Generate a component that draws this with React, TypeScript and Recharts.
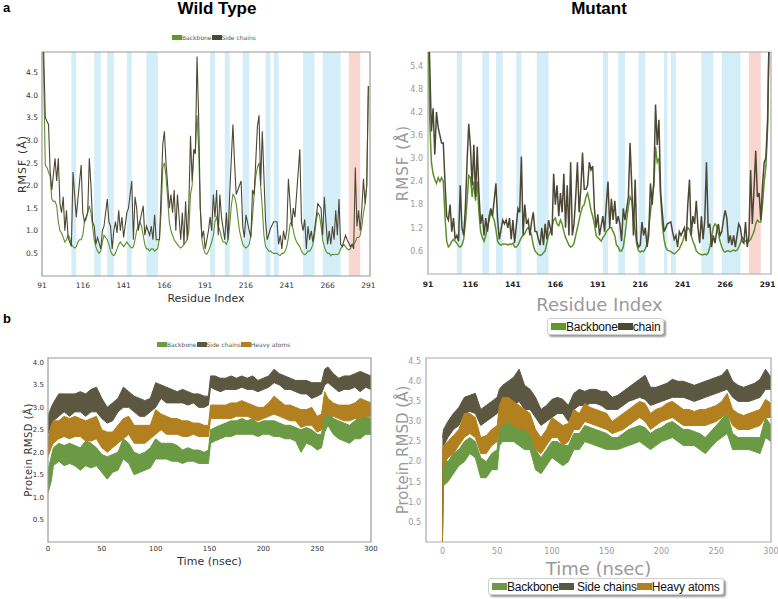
import React from 'react';
import { LineChart, Line, ComposedChart, Area, XAxis, YAxis, ReferenceArea, Label } from 'recharts';

// ---- axis ticks ----
const RESIDUE_TICKS = [91, 116, 141, 166, 191, 216, 241, 266, 291];
const TIME_TICKS = [0, 50, 100, 150, 200, 250, 300];
const WT_RMSF_TICKS = [0.5, 1.0, 1.5, 2.0, 2.5, 3.0, 3.5, 4.0, 4.5];
const MUT_RMSF_TICKS = [0.6, 1.2, 1.8, 2.4, 3.0, 3.6, 4.2, 4.8, 5.4];
const WT_RMSD_TICKS = [0.5, 1.0, 1.5, 2.0, 2.5, 3.0, 3.5, 4.0];
const MUT_RMSD_TICKS = [0.5, 1.0, 1.5, 2.0, 2.5, 3.0, 3.5, 4.0, 4.5];

// ---- secondary structure bands (residue ranges) ----
const WT_HELIX = [[109, 112], [123, 127], [131, 135], [143, 146], [155, 162], [194, 197], [203, 206], [214, 218], [228, 231], [233, 236], [251, 258], [263, 274]];
const WT_STRAND = [[279, 286]];
const MUT_HELIX = [[108, 111], [123, 127], [131, 135], [143, 146], [155, 162], [194, 197], [203, 207], [215, 219], [230, 232], [234, 237], [252, 259], [264, 275]];
const MUT_STRAND = [[280, 287]];

// ---- RMSF, wild type: [residue, value] ----
const WT_BACKBONE = [[91, 6.0], [92, 4.5], [93, 2.45], [94, 2.4], [95, 2.3], [96, 2.2], [97, 1.7], [98, 1.65], [99, 1.65], [100, 1.55], [101, 1.2], [102, 1.0], [103, 0.95], [104, 0.85], [105, 0.75], [106, 0.8], [107, 0.9], [108, 0.85], [109, 0.7], [110, 0.65], [111, 0.62], [112, 0.65], [113, 0.75], [114, 0.8], [115, 0.8], [116, 0.9], [117, 1.2], [118, 1.25], [119, 1.4], [120, 1.55], [121, 1.4], [122, 1.1], [123, 0.8], [124, 0.65], [125, 0.55], [126, 0.5], [127, 0.55], [128, 0.75], [129, 0.9], [130, 0.85], [131, 0.8], [132, 0.7], [133, 0.55], [134, 0.48], [135, 0.45], [136, 0.5], [137, 0.6], [138, 0.7], [139, 0.75], [140, 0.7], [141, 0.65], [142, 0.7], [143, 0.75], [144, 0.7], [145, 0.65], [146, 0.62], [147, 0.65], [148, 0.8], [149, 1.0], [150, 1.1], [151, 1.2], [152, 1.1], [153, 0.9], [154, 0.7], [155, 0.6], [156, 0.6], [157, 0.55], [158, 0.6], [159, 0.6], [160, 0.55], [161, 0.58], [162, 0.62], [163, 0.85], [164, 1.4], [165, 2.4], [166, 2.5], [167, 2.2], [168, 1.7], [169, 1.2], [170, 1.0], [171, 0.9], [172, 0.8], [173, 0.75], [174, 0.7], [175, 0.65], [176, 0.62], [177, 0.65], [178, 0.7], [179, 0.75], [180, 0.8], [181, 1.0], [182, 1.8], [183, 2.0], [184, 2.7], [185, 2.8], [186, 3.55], [187, 2.8], [188, 1.5], [189, 0.8], [190, 0.6], [191, 0.5], [192, 0.48], [193, 0.55], [194, 0.65], [195, 0.75], [196, 0.9], [197, 1.2], [198, 1.3], [199, 1.1], [200, 1.0], [201, 0.85], [202, 0.75], [203, 0.75], [204, 0.7], [205, 0.8], [206, 1.1], [207, 1.55], [208, 1.8], [209, 1.75], [210, 1.6], [211, 1.3], [212, 1.0], [213, 0.85], [214, 0.7], [215, 0.65], [216, 0.62], [217, 0.65], [218, 0.7], [219, 0.9], [220, 1.3], [221, 1.8], [222, 2.2], [223, 2.4], [224, 2.5], [225, 2.0], [226, 1.5], [227, 0.9], [228, 0.65], [229, 0.6], [230, 0.55], [231, 0.55], [232, 0.52], [233, 0.5], [234, 0.5], [235, 0.5], [236, 0.47], [237, 0.45], [238, 0.5], [239, 0.5], [240, 0.55], [241, 0.65], [242, 0.85], [243, 1.15], [244, 1.2], [245, 1.0], [246, 0.85], [247, 0.75], [248, 0.7], [249, 0.65], [250, 0.55], [251, 0.5], [252, 0.47], [253, 0.5], [254, 0.55], [255, 0.55], [256, 0.6], [257, 0.7], [258, 0.9], [259, 1.2], [260, 1.4], [261, 1.35], [262, 1.1], [263, 0.8], [264, 0.65], [265, 0.55], [266, 0.5], [267, 0.5], [268, 0.45], [269, 0.48], [270, 0.47], [271, 0.48], [272, 0.47], [273, 0.5], [274, 0.6], [275, 0.65], [276, 0.7], [277, 0.65], [278, 0.6], [279, 0.58], [280, 0.6], [281, 0.7], [282, 0.7], [283, 0.75], [284, 0.85], [285, 0.85], [286, 0.9], [287, 1.1], [288, 1.4], [289, 1.6], [290, 2.0], [291, 4.2]];
const WT_SIDECHAIN = [[91, 6.0], [92, 5.0], [93, 3.5], [95, 3.35], [96, 2.3], [97, 1.9], [99, 2.6], [100, 2.1], [101, 2.6], [102, 1.6], [103, 1.4], [104, 1.75], [105, 1.0], [106, 1.45], [107, 0.85], [108, 0.75], [109, 0.65], [110, 2.3], [112, 1.3], [113, 1.7], [115, 2.45], [116, 1.4], [117, 1.2], [119, 1.4], [120, 2.6], [121, 2.0], [122, 1.2], [123, 1.1], [124, 0.7], [125, 0.85], [127, 0.6], [128, 1.0], [129, 1.1], [131, 1.7], [132, 1.2], [133, 1.1], [134, 0.6], [135, 1.0], [136, 1.2], [137, 0.95], [138, 1.45], [139, 1.0], [140, 1.3], [141, 0.85], [143, 1.4], [144, 1.5], [146, 2.1], [147, 0.8], [148, 1.75], [149, 1.5], [150, 1.0], [151, 1.2], [153, 1.55], [154, 0.9], [155, 1.1], [157, 0.9], [158, 1.1], [159, 0.8], [160, 1.35], [161, 0.8], [163, 0.8], [165, 2.9], [166, 3.2], [167, 2.5], [169, 1.5], [170, 1.8], [171, 1.4], [172, 1.9], [173, 1.0], [174, 1.8], [176, 0.8], [177, 1.4], [178, 0.7], [179, 1.65], [180, 0.8], [181, 1.6], [182, 3.1], [183, 2.1], [184, 2.8], [185, 2.7], [186, 4.85], [187, 3.5], [188, 1.5], [189, 0.85], [190, 1.0], [191, 0.6], [193, 1.0], [194, 1.3], [195, 1.0], [196, 1.8], [197, 1.3], [198, 1.9], [199, 0.9], [200, 1.8], [201, 1.3], [203, 0.8], [204, 1.4], [205, 0.8], [206, 1.8], [208, 3.35], [209, 2.5], [210, 1.8], [211, 1.9], [213, 2.1], [214, 1.1], [215, 0.85], [216, 1.35], [218, 1.0], [219, 0.85], [220, 1.9], [221, 1.8], [223, 3.3], [224, 3.55], [225, 2.0], [226, 3.2], [228, 1.2], [229, 0.8], [231, 1.05], [233, 1.2], [235, 1.2], [236, 0.7], [237, 0.9], [238, 0.6], [239, 1.0], [240, 0.8], [241, 1.0], [242, 2.15], [244, 1.1], [245, 1.5], [246, 1.3], [249, 2.8], [250, 1.2], [251, 1.0], [252, 1.25], [253, 0.6], [254, 1.1], [255, 0.8], [256, 1.0], [257, 0.75], [259, 1.3], [260, 1.6], [262, 1.5], [263, 0.9], [264, 1.75], [265, 1.2], [266, 0.7], [267, 1.0], [268, 0.7], [269, 1.1], [270, 0.8], [271, 1.45], [272, 0.9], [273, 1.7], [274, 0.7], [275, 0.65], [277, 0.9], [278, 0.8], [280, 0.65], [281, 0.7], [282, 0.6], [283, 2.4], [284, 1.1], [285, 1.45], [286, 1.0], [287, 1.5], [288, 2.15], [289, 1.6], [290, 2.0], [291, 4.2]];

// ---- RMSF, mutant ----
const MUT_BACKBONE = [[91, 7.0], [92, 4.0], [93, 2.9], [94, 2.6], [95, 2.45], [96, 2.35], [97, 2.5], [98, 2.4], [99, 2.5], [100, 2.4], [101, 1.5], [102, 0.85], [103, 0.7], [104, 0.75], [105, 0.85], [106, 0.9], [107, 0.85], [108, 0.8], [109, 0.72], [110, 0.7], [111, 0.75], [112, 0.9], [113, 1.3], [114, 1.9], [115, 2.55], [116, 2.5], [117, 2.0], [118, 2.4], [119, 1.9], [120, 2.4], [121, 1.6], [122, 1.1], [123, 0.95], [124, 0.85], [125, 1.0], [126, 1.2], [127, 1.4], [128, 1.6], [129, 1.5], [130, 1.4], [131, 1.15], [132, 0.85], [133, 0.78], [134, 0.75], [135, 0.78], [136, 0.78], [137, 0.78], [138, 0.75], [139, 0.78], [140, 0.76], [141, 0.8], [142, 0.7], [143, 0.7], [144, 0.75], [145, 0.85], [146, 0.95], [147, 1.0], [148, 1.05], [149, 1.15], [150, 1.2], [151, 1.15], [152, 1.0], [153, 0.75], [154, 0.6], [155, 0.55], [156, 0.5], [157, 0.48], [158, 0.5], [159, 0.55], [160, 0.6], [161, 0.8], [162, 1.0], [163, 1.1], [164, 1.2], [165, 1.4], [166, 1.45], [167, 1.3], [168, 1.25], [169, 1.4], [170, 1.3], [171, 1.1], [172, 0.95], [173, 0.85], [174, 0.75], [175, 0.7], [176, 0.72], [177, 0.8], [178, 1.0], [179, 1.2], [180, 1.4], [181, 1.6], [182, 1.75], [183, 1.8], [184, 2.0], [185, 2.1], [186, 1.9], [187, 1.65], [188, 1.5], [189, 1.3], [190, 1.0], [191, 0.95], [192, 0.9], [193, 0.85], [194, 0.95], [195, 1.0], [196, 1.1], [197, 1.15], [198, 1.2], [199, 1.2], [200, 1.1], [201, 1.0], [202, 0.75], [203, 0.7], [204, 0.6], [205, 0.6], [206, 0.7], [207, 1.0], [208, 1.4], [209, 1.75], [210, 2.0], [211, 1.9], [212, 1.5], [213, 1.1], [214, 0.75], [215, 0.6], [216, 0.57], [217, 0.6], [218, 0.58], [219, 0.65], [220, 0.8], [221, 1.2], [222, 1.6], [223, 2.0], [224, 2.3], [225, 3.3], [226, 2.9], [227, 3.0], [228, 2.0], [229, 1.3], [230, 0.9], [231, 0.7], [232, 0.62], [233, 0.6], [234, 0.58], [235, 0.55], [236, 0.52], [237, 0.55], [238, 0.6], [239, 0.65], [240, 0.75], [241, 0.85], [242, 1.0], [243, 1.1], [244, 1.2], [245, 1.15], [246, 1.0], [247, 0.85], [248, 0.75], [249, 0.6], [250, 0.55], [251, 0.52], [252, 0.5], [253, 0.5], [254, 0.52], [255, 0.5], [256, 0.55], [257, 0.7], [258, 0.95], [259, 1.2], [260, 1.3], [261, 1.25], [262, 1.05], [263, 0.85], [264, 0.7], [265, 0.6], [266, 0.57], [267, 0.6], [268, 0.6], [269, 0.58], [270, 0.6], [271, 0.62], [272, 0.6], [273, 0.62], [274, 0.7], [275, 0.8], [276, 0.95], [277, 0.9], [278, 0.85], [279, 0.82], [280, 0.85], [281, 0.9], [282, 1.0], [283, 1.1], [284, 1.3], [285, 1.4], [286, 1.35], [287, 1.35], [288, 1.8], [289, 2.4], [290, 2.8], [291, 3.8], [292, 6.5]];
const MUT_SIDECHAIN = [[91, 7.0], [92, 5.5], [93, 3.7], [94, 4.3], [95, 3.1], [96, 4.2], [97, 3.8], [99, 3.4], [100, 3.4], [101, 2.4], [102, 1.5], [103, 1.4], [104, 1.8], [105, 1.1], [106, 1.45], [107, 0.9], [108, 1.0], [109, 0.85], [110, 2.3], [111, 1.2], [112, 1.0], [113, 1.7], [114, 2.9], [115, 3.9], [116, 3.3], [117, 2.3], [118, 3.35], [119, 2.0], [120, 3.3], [121, 2.1], [122, 1.3], [123, 1.55], [124, 1.0], [125, 1.45], [126, 1.1], [127, 1.5], [128, 1.7], [129, 1.5], [131, 2.35], [132, 1.4], [133, 0.9], [135, 1.4], [136, 1.3], [137, 1.4], [138, 1.2], [139, 1.45], [140, 0.9], [141, 1.4], [142, 0.8], [144, 1.7], [145, 1.6], [146, 3.05], [147, 1.0], [148, 1.8], [149, 1.3], [150, 1.4], [151, 1.0], [152, 1.35], [153, 1.6], [154, 1.1], [155, 1.1], [156, 0.9], [157, 0.75], [158, 1.2], [159, 0.75], [160, 1.3], [161, 0.9], [162, 1.4], [163, 1.2], [164, 1.0], [165, 2.6], [166, 1.8], [167, 2.3], [168, 1.5], [169, 2.1], [170, 1.6], [171, 2.6], [172, 1.2], [173, 2.3], [174, 1.0], [175, 2.9], [176, 1.0], [177, 1.3], [178, 2.0], [179, 2.9], [180, 1.6], [181, 2.2], [182, 3.15], [183, 2.2], [184, 2.2], [185, 2.3], [186, 2.9], [187, 2.7], [188, 2.8], [189, 1.7], [190, 1.2], [191, 1.55], [192, 1.0], [194, 1.5], [195, 1.1], [196, 1.8], [197, 2.4], [198, 1.2], [199, 1.95], [200, 1.4], [201, 1.9], [202, 1.3], [203, 1.5], [204, 1.3], [205, 0.85], [206, 1.7], [207, 1.4], [209, 2.0], [210, 3.4], [211, 2.3], [212, 1.0], [213, 2.45], [214, 0.85], [215, 0.7], [216, 0.75], [217, 1.35], [218, 1.0], [219, 1.2], [220, 0.7], [221, 1.0], [222, 2.35], [223, 1.8], [224, 2.4], [225, 4.4], [226, 3.35], [227, 4.0], [228, 2.1], [230, 1.1], [232, 1.3], [234, 1.35], [235, 1.1], [236, 0.9], [237, 1.0], [238, 0.7], [239, 1.1], [240, 1.0], [241, 1.1], [242, 1.2], [243, 0.85], [244, 1.8], [245, 2.45], [246, 1.0], [247, 1.5], [248, 1.3], [249, 1.9], [250, 1.2], [251, 0.8], [252, 1.5], [253, 0.9], [254, 1.4], [255, 2.9], [256, 1.2], [257, 1.3], [258, 0.7], [259, 1.0], [260, 0.8], [261, 1.1], [262, 1.3], [263, 1.0], [264, 1.1], [265, 1.4], [266, 1.65], [267, 1.45], [268, 0.8], [269, 1.0], [270, 0.75], [271, 1.0], [272, 0.7], [273, 1.0], [274, 1.3], [275, 1.2], [276, 0.85], [277, 0.8], [278, 1.35], [279, 0.7], [280, 1.0], [281, 2.7], [282, 1.3], [283, 2.2], [284, 3.2], [285, 2.0], [286, 2.1], [287, 1.4], [288, 2.3], [289, 2.9], [290, 3.0], [291, 4.0], [292, 6.5]];

// ---- RMSD, wild type: time (ns) and [low, high] band per series ----
const WT_TIME = [0, 3, 5, 10, 15, 20, 25, 30, 35, 40, 45, 50, 55, 60, 65, 70, 75, 80, 85, 90, 95, 100, 105, 110, 115, 120, 125, 130, 135, 140, 145, 149, 151, 155, 160, 165, 170, 175, 180, 185, 190, 195, 200, 205, 210, 215, 220, 225, 230, 235, 240, 245, 250, 254, 257, 260, 265, 270, 275, 280, 285, 290, 295, 300];
const WT_RMSD_BACKBONE = [[1.1, 1.6], [1.35, 1.9], [1.7, 2.1], [1.8, 2.2], [1.7, 2.15], [1.75, 2.2], [1.7, 2.15], [1.6, 2.1], [1.7, 2.25], [1.65, 2.2], [1.7, 2.1], [1.55, 1.95], [1.4, 1.9], [1.55, 1.95], [1.6, 2.0], [1.85, 2.3], [1.75, 2.2], [1.5, 2.0], [1.55, 1.95], [1.6, 2.0], [1.65, 2.1], [1.85, 2.3], [1.85, 2.2], [1.85, 2.2], [1.8, 2.2], [1.8, 2.15], [1.75, 2.05], [1.8, 2.1], [1.8, 2.05], [1.75, 2.05], [1.75, 2.0], [1.75, 2.05], [2.2, 2.5], [2.25, 2.55], [2.3, 2.6], [2.35, 2.65], [2.35, 2.7], [2.4, 2.7], [2.4, 2.75], [2.4, 2.7], [2.4, 2.75], [2.35, 2.65], [2.4, 2.7], [2.4, 2.7], [2.35, 2.7], [2.35, 2.65], [2.3, 2.6], [2.3, 2.6], [2.25, 2.55], [2.0, 2.5], [2.2, 2.55], [2.15, 2.5], [2.05, 2.4], [2.1, 2.4], [2.45, 2.95], [2.6, 2.95], [2.4, 2.75], [2.3, 2.7], [2.25, 2.65], [2.2, 2.6], [2.3, 2.7], [2.3, 2.8], [2.4, 2.8], [2.4, 2.75]];
const WT_RMSD_SIDECHAIN = [[2.4, 2.8], [2.6, 3.0], [2.7, 3.1], [2.8, 3.3], [2.9, 3.3], [2.8, 3.3], [2.9, 3.3], [2.9, 3.35], [2.8, 3.3], [2.9, 3.4], [2.9, 3.45], [2.75, 3.2], [2.65, 3.0], [2.7, 3.1], [2.9, 3.2], [3.0, 3.45], [3.0, 3.35], [2.9, 3.25], [2.8, 3.2], [2.8, 3.15], [2.9, 3.2], [3.0, 3.55], [3.2, 3.5], [3.1, 3.45], [3.1, 3.4], [3.1, 3.35], [3.1, 3.4], [3.05, 3.35], [3.1, 3.3], [3.0, 3.3], [3.0, 3.25], [3.05, 3.25], [3.45, 3.7], [3.4, 3.7], [3.35, 3.65], [3.4, 3.65], [3.4, 3.7], [3.4, 3.65], [3.45, 3.7], [3.4, 3.65], [3.4, 3.7], [3.35, 3.6], [3.4, 3.65], [3.45, 3.7], [3.55, 3.85], [3.5, 3.75], [3.4, 3.7], [3.4, 3.65], [3.35, 3.6], [3.3, 3.6], [3.3, 3.6], [3.2, 3.55], [3.25, 3.55], [3.3, 3.55], [3.5, 3.85], [3.55, 3.9], [3.45, 3.75], [3.35, 3.65], [3.4, 3.7], [3.4, 3.7], [3.45, 3.75], [3.35, 3.8], [3.45, 3.75], [3.4, 3.7]];
const WT_RMSD_HEAVY = [[1.9, 2.3], [2.1, 2.6], [2.2, 2.7], [2.3, 2.7], [2.35, 2.8], [2.3, 2.75], [2.35, 2.8], [2.35, 2.75], [2.25, 2.7], [2.25, 2.75], [2.3, 2.8], [2.1, 2.5], [2.0, 2.45], [2.1, 2.45], [2.2, 2.6], [2.3, 2.75], [2.4, 2.8], [2.2, 2.6], [2.2, 2.6], [2.2, 2.6], [2.3, 2.6], [2.4, 2.95], [2.5, 2.85], [2.4, 2.8], [2.4, 2.75], [2.4, 2.75], [2.35, 2.7], [2.35, 2.7], [2.4, 2.65], [2.35, 2.65], [2.35, 2.6], [2.35, 2.6], [2.75, 3.05], [2.75, 3.05], [2.75, 3.05], [2.75, 3.05], [2.75, 3.1], [2.8, 3.1], [2.8, 3.15], [2.8, 3.1], [2.75, 3.05], [2.7, 3.0], [2.75, 3.0], [2.8, 3.1], [2.85, 3.25], [2.8, 3.15], [2.75, 3.05], [2.7, 3.05], [2.7, 3.0], [2.55, 2.95], [2.6, 2.95], [2.6, 3.0], [2.45, 2.8], [2.5, 2.85], [2.85, 3.35], [2.85, 3.2], [2.8, 3.1], [2.75, 3.05], [2.7, 3.05], [2.7, 3.05], [2.75, 3.1], [2.75, 3.2], [2.8, 3.15], [2.8, 3.1]];

// ---- RMSD, mutant ----
const MUT_TIME = [0, 1, 5, 10, 15, 20, 25, 30, 35, 40, 45, 50, 52, 55, 60, 65, 70, 75, 80, 85, 90, 95, 100, 105, 110, 115, 120, 125, 130, 135, 140, 145, 150, 155, 160, 165, 170, 175, 180, 185, 190, 195, 200, 205, 210, 215, 220, 225, 230, 235, 240, 245, 250, 255, 260, 265, 270, 275, 280, 285, 290, 295, 300];
const MUT_RMSD_BACKBONE = [[0, 1.9], [1.4, 2.1], [1.5, 2.0], [1.7, 2.2], [1.9, 2.3], [2.0, 2.5], [2.2, 2.6], [2.1, 2.5], [1.6, 2.1], [1.6, 2.0], [1.8, 2.2], [1.8, 2.3], [2.4, 2.9], [2.5, 3.0], [2.5, 3.1], [2.5, 2.95], [2.4, 2.9], [2.3, 2.8], [2.3, 2.7], [1.8, 2.3], [1.7, 2.1], [1.9, 2.3], [2.1, 2.5], [2.0, 2.5], [1.9, 2.4], [2.0, 2.4], [2.3, 2.7], [2.3, 2.7], [2.5, 2.9], [2.45, 2.85], [2.4, 2.8], [2.35, 2.75], [2.3, 2.7], [2.3, 2.6], [2.3, 2.6], [2.35, 2.7], [2.4, 2.8], [2.45, 2.85], [2.5, 2.9], [2.4, 2.85], [2.3, 2.7], [2.4, 2.8], [2.5, 2.85], [2.55, 2.95], [2.6, 3.0], [2.5, 2.9], [2.4, 2.8], [2.4, 2.8], [2.4, 2.75], [2.3, 2.7], [2.2, 2.6], [2.35, 2.75], [2.5, 2.9], [2.6, 3.05], [2.7, 3.2], [2.3, 2.7], [2.3, 2.6], [2.3, 2.6], [2.3, 2.6], [2.25, 2.6], [2.2, 2.6], [2.6, 3.1], [2.5, 2.9]];
const MUT_RMSD_SIDECHAIN = [[0, 2.6], [2.4, 2.8], [2.6, 3.0], [2.8, 3.2], [2.9, 3.35], [3.2, 3.6], [3.25, 3.65], [3.2, 3.7], [2.9, 3.3], [3.0, 3.4], [3.1, 3.5], [3.2, 3.6], [3.3, 3.8], [3.3, 3.9], [3.4, 4.0], [3.4, 4.1], [3.5, 4.3], [3.3, 3.9], [3.3, 3.8], [3.1, 3.6], [2.9, 3.3], [3.0, 3.4], [3.1, 3.55], [3.2, 3.6], [3.2, 3.55], [3.0, 3.4], [3.3, 3.7], [3.4, 3.8], [3.4, 3.75], [3.45, 3.8], [3.45, 3.8], [3.4, 3.75], [3.3, 3.75], [3.3, 3.6], [3.3, 3.65], [3.4, 3.75], [3.5, 3.85], [3.55, 3.95], [3.6, 4.05], [3.55, 4.15], [3.4, 3.85], [3.45, 3.85], [3.5, 3.9], [3.55, 3.95], [3.6, 4.05], [3.6, 4.0], [3.6, 4.0], [3.55, 3.95], [3.5, 3.9], [3.55, 3.95], [3.6, 4.0], [3.65, 4.05], [3.7, 4.1], [3.75, 4.15], [3.8, 4.3], [3.6, 4.0], [3.5, 3.9], [3.5, 3.85], [3.5, 3.9], [3.55, 3.95], [3.6, 4.05], [3.8, 4.3], [3.8, 4.1]];
const MUT_RMSD_HEAVY = [[0, 2.2], [1.9, 2.4], [2.1, 2.5], [2.2, 2.65], [2.4, 2.8], [2.6, 3.2], [2.7, 3.2], [2.6, 3.1], [2.2, 2.6], [2.2, 2.65], [2.4, 2.8], [2.5, 2.9], [2.9, 3.4], [2.9, 3.6], [3.0, 3.6], [2.9, 3.5], [2.8, 3.4], [2.8, 3.3], [2.7, 3.2], [2.3, 2.8], [2.2, 2.6], [2.4, 2.8], [2.6, 3.1], [2.6, 3.0], [2.4, 2.9], [2.5, 2.95], [2.8, 3.3], [2.8, 3.2], [3.0, 3.45], [2.95, 3.35], [2.9, 3.3], [2.85, 3.25], [2.8, 3.2], [2.7, 3.0], [2.75, 3.1], [2.8, 3.2], [2.9, 3.3], [3.0, 3.4], [3.1, 3.5], [3.0, 3.45], [2.8, 3.2], [2.9, 3.3], [3.0, 3.35], [3.05, 3.45], [3.1, 3.5], [3.0, 3.4], [2.9, 3.3], [2.9, 3.3], [2.9, 3.25], [2.9, 3.3], [2.9, 3.3], [2.95, 3.35], [3.0, 3.4], [3.1, 3.5], [3.2, 3.7], [2.9, 3.3], [2.8, 3.2], [2.8, 3.15], [2.8, 3.2], [2.85, 3.25], [2.9, 3.3], [3.1, 3.55], [3.1, 3.45]];

const C_BACKBONE = '#5e8f2c';
const C_SIDE = '#4d4834';
const C_RMSD_BB = '#6b9a45';
const C_RMSD_SC = '#5c5741';
const C_RMSD_HA = '#b3801f';
const C_HELIX = '#d3eef8';
const C_STRAND = '#f9d6cf';

const toPoints = (pairs: number[][]) => pairs.map(([res, v]) => ({ res, v }));
const toRows = (time: number[], bb: number[][], sc: number[][], ha: number[][]) =>
  time.map((t, i) => ({ t, bb: bb[i], sc: sc[i], ha: ha[i] }));

const fmt1 = (v: number) => v.toFixed(1);
const SANS = 'DejaVu Sans, sans-serif';
const ARIAL = 'Liberation Sans, Arial, sans-serif';

type Swatch = { label: string; color: string };

const TinyLegend = ({ items, left, top }: { items: Swatch[]; left: number; top: number }) => (
  <div style={{ position: 'absolute', left, top, display: 'flex', alignItems: 'center', whiteSpace: 'nowrap', fontFamily: SANS, fontSize: 6, color: '#555' }}>
    {items.map((it) => (
      <span key={it.label} style={{ display: 'flex', alignItems: 'center' }}>
        <span style={{ width: 10, height: 5, background: it.color, display: 'inline-block' }} />
        <span>{it.label}</span>
      </span>
    ))}
  </div>
);

const BoxLegend = ({ items, left, top }: { items: Swatch[]; left: number; top: number }) => (
  <div style={{
    position: 'absolute', left, top, height: 17, padding: '0 3px', boxSizing: 'border-box', display: 'flex', alignItems: 'center',
    whiteSpace: 'nowrap', border: '1px solid #d0d0d0', borderRadius: 3, boxShadow: '2px 2px 2px #9a9a9a',
    fontFamily: ARIAL, fontSize: 12, letterSpacing: -0.2, color: '#111', background: '#fff'
  }}>
    {items.map((it) => (
      <span key={it.label} style={{ display: 'flex', alignItems: 'center' }}>
        <span style={{ width: 15, height: 7, background: it.color, display: 'inline-block' }} />
        <span>{it.label}</span>
      </span>
    ))}
  </div>
);

const bands = (helix: number[][], strand: number[][]) => [
  ...helix.map(([a, b], i) => (
    <ReferenceArea key={`h${i}`} x1={a} x2={b} fill={C_HELIX} fillOpacity={1} stroke="none" ifOverflow="hidden" />
  )),
  ...strand.map(([a, b], i) => (
    <ReferenceArea key={`s${i}`} x1={a} x2={b} fill={C_STRAND} fillOpacity={1} stroke="none" ifOverflow="hidden" />
  )),
];

// plot frame drawn over the full axis domain
const frame = (x: number[], y: number[], color: string) => (
  <ReferenceArea x1={x[0]} x2={x[1]} y1={y[0]} y2={y[1]} fill="none" fillOpacity={0} stroke={color} strokeWidth={1.2} ifOverflow="visible" />
);

export default function App() {
  const wtRows = toRows(WT_TIME, WT_RMSD_BACKBONE, WT_RMSD_SIDECHAIN, WT_RMSD_HEAVY);
  const mutRows = toRows(MUT_TIME, MUT_RMSD_BACKBONE, MUT_RMSD_SIDECHAIN, MUT_RMSD_HEAVY);

  const smallTick = { fontSize: 7.5, fill: '#333', fontFamily: SANS };
  const grayTick = { fontSize: 8, fill: '#999', fontFamily: SANS };

  return (
    <div style={{ position: 'absolute', left: 0, top: 0, width: 778, height: 599, background: '#fff', overflow: 'hidden' }}>
      <div style={{ position: 'absolute', left: 3, top: 0, fontFamily: ARIAL, fontWeight: 'bold', fontSize: 13 }}>a</div>
      <div style={{ position: 'absolute', left: 3, top: 311, fontFamily: ARIAL, fontWeight: 'bold', fontSize: 13 }}>b</div>
      <div style={{ position: 'absolute', left: 137, width: 160, top: -1, textAlign: 'center', fontFamily: ARIAL, fontWeight: 'bold', fontSize: 17 }}>Wild Type</div>
      <div style={{ position: 'absolute', left: 519, width: 160, top: -1, textAlign: 'center', fontFamily: ARIAL, fontWeight: 'bold', fontSize: 17 }}>Mutant</div>

      {/* a: wild type RMSF */}
      <div style={{ position: 'absolute', left: 0, top: 0 }}>
        <LineChart width={380} height={306} margin={{ top: 52, right: 10, left: 0, bottom: 0 }}>
          {bands(WT_HELIX, WT_STRAND)}
          <XAxis type="number" dataKey="res" domain={[91, 292]} ticks={RESIDUE_TICKS} interval={0} allowDataOverflow
            height={30} axisLine={false} tickLine={false} tickSize={0} tickMargin={7} tick={smallTick}>
            <Label value="Residue Index" position="insideBottom" offset={4} style={{ fontSize: 11, fill: '#333', fontFamily: SANS }} />
          </XAxis>
          <YAxis type="number" domain={[0, 4.95]} ticks={WT_RMSF_TICKS} tickFormatter={fmt1} allowDataOverflow
            width={42} axisLine={false} tickLine={false} tickSize={0} tickMargin={4} tick={smallTick}>
            <Label value="RMSF (Å)" angle={-90} position="insideLeft" offset={22} style={{ fontSize: 11, fill: '#333', textAnchor: 'middle', fontFamily: SANS, letterSpacing: 1 }} />
          </YAxis>
          <Line data={toPoints(WT_BACKBONE)} dataKey="v" stroke={C_BACKBONE} strokeWidth={1.1} dot={false} isAnimationActive={false} />
          <Line data={toPoints(WT_SIDECHAIN)} dataKey="v" stroke={C_SIDE} strokeWidth={1.1} dot={false} isAnimationActive={false} />
          {frame([91, 292], [0, 4.95], '#999')}
        </LineChart>
      </div>
      <TinyLegend left={172} top={34} items={[{ label: 'Backbone', color: '#5c9a2c' }, { label: 'Side chains', color: C_SIDE }]} />

      {/* a: mutant RMSF */}
      <div style={{ position: 'absolute', left: 390, top: 0 }}>
        <LineChart width={388} height={314} margin={{ top: 52, right: 7, left: 0, bottom: 0 }}>
          {bands(MUT_HELIX, MUT_STRAND)}
          <XAxis type="number" dataKey="res" domain={[91, 293]} ticks={RESIDUE_TICKS} interval={0} allowDataOverflow
            height={40} axisLine={false} tickLine={false} tickSize={0} tickMargin={8} tick={{ ...smallTick, fill: '#222', fontWeight: 'bold' }}>
            <Label value="Residue Index" position="insideBottom" offset={3} style={{ fontSize: 18, fill: '#9a9a9a', fontFamily: SANS }} />
          </XAxis>
          <YAxis type="number" domain={[0, 5.76]} ticks={MUT_RMSF_TICKS} tickFormatter={fmt1} allowDataOverflow
            width={38} axisLine={false} tickLine={false} tickSize={0} tickMargin={5} tick={grayTick}>
            <Label value="RMSF (Å)" angle={-90} position="insideLeft" offset={13} style={{ fontSize: 15, fill: '#9a9a9a', textAnchor: 'middle', fontFamily: SANS, letterSpacing: 1 }} />
          </YAxis>
          <Line data={toPoints(MUT_BACKBONE)} dataKey="v" stroke={C_BACKBONE} strokeWidth={1.5} dot={false} isAnimationActive={false} />
          <Line data={toPoints(MUT_SIDECHAIN)} dataKey="v" stroke={C_SIDE} strokeWidth={1.5} dot={false} isAnimationActive={false} />
          {frame([91, 293], [0, 5.76], '#aaa')}
        </LineChart>
      </div>
      <BoxLegend left={547} top={318} items={[{ label: 'Backbone', color: '#5c9a2c' }, { label: 'chain', color: C_SIDE }]} />

      {/* b: wild type RMSD */}
      <div style={{ position: 'absolute', left: 0, top: 330 }}>
        <ComposedChart width={380} height={240} data={wtRows} margin={{ top: 28, right: 9, left: 0, bottom: 0 }}>
          <XAxis type="number" dataKey="t" domain={[0, 300]} ticks={TIME_TICKS} interval={0} allowDataOverflow
            height={28} axisLine={false} tickLine={false} tickSize={0} tickMargin={4} tick={{ ...smallTick, fontSize: 7 }}>
            <Label value="Time (nsec)" position="insideBottom" offset={5} style={{ fontSize: 11, fill: '#333', fontFamily: SANS }} />
          </XAxis>
          <YAxis type="number" domain={[0, 4.1]} ticks={WT_RMSD_TICKS} tickFormatter={fmt1} allowDataOverflow
            width={48} axisLine={false} tickLine={false} tickSize={0} tickMargin={4} tick={{ ...smallTick, fontSize: 7 }}>
            <Label value="Protein RMSD (Å)" angle={-90} position="insideLeft" offset={28} style={{ fontSize: 10, fill: '#333', textAnchor: 'middle', fontFamily: SANS, letterSpacing: 0.5 }} />
          </YAxis>
          <Area type="linear" dataKey="bb" stroke={C_RMSD_BB} fill={C_RMSD_BB} fillOpacity={1} strokeWidth={1} isAnimationActive={false} />
          <Area type="linear" dataKey="sc" stroke={C_RMSD_SC} fill={C_RMSD_SC} fillOpacity={1} strokeWidth={1} isAnimationActive={false} />
          <Area type="linear" dataKey="ha" stroke={C_RMSD_HA} fill={C_RMSD_HA} fillOpacity={1} strokeWidth={1} isAnimationActive={false} />
          {frame([0, 300], [0, 4.1], '#999')}
        </ComposedChart>
      </div>
      <TinyLegend left={157} top={341} items={[{ label: 'Backbone', color: C_RMSD_BB }, { label: 'Side chains', color: C_RMSD_SC }, { label: 'Heavy atoms', color: C_RMSD_HA }]} />

      {/* b: mutant RMSD */}
      <div style={{ position: 'absolute', left: 390, top: 330 }}>
        <ComposedChart width={388} height={248} data={mutRows} margin={{ top: 28, right: 7, left: 0, bottom: 0 }}>
          <XAxis type="number" dataKey="t" domain={[-15, 300]} ticks={TIME_TICKS} interval={0} allowDataOverflow
            height={36} axisLine={false} tickLine={false} tickSize={0} tickMargin={6} tick={grayTick}>
            <Label value="Time (nsec)" position="insideBottom" offset={3} style={{ fontSize: 18, fill: '#9a9a9a', fontFamily: SANS }} />
          </XAxis>
          <YAxis type="number" domain={[0, 4.58]} ticks={MUT_RMSD_TICKS} tickFormatter={fmt1} allowDataOverflow
            width={36} axisLine={false} tickLine={false} tickSize={0} tickMargin={5} tick={grayTick}>
            <Label value="Protein RMSD (Å)" angle={-90} position="insideLeft" offset={13} style={{ fontSize: 15, fill: '#9a9a9a', textAnchor: 'middle', fontFamily: SANS }} />
          </YAxis>
          <Area type="linear" dataKey="bb" stroke={C_RMSD_BB} fill={C_RMSD_BB} fillOpacity={1} strokeWidth={1} isAnimationActive={false} />
          <Area type="linear" dataKey="sc" stroke={C_RMSD_SC} fill={C_RMSD_SC} fillOpacity={1} strokeWidth={1} isAnimationActive={false} />
          <Area type="linear" dataKey="ha" stroke={C_RMSD_HA} fill={C_RMSD_HA} fillOpacity={1} strokeWidth={1} isAnimationActive={false} />
          {frame([-15, 300], [0, 4.58], '#aaa')}
        </ComposedChart>
      </div>
      <BoxLegend left={488} top={578} items={[{ label: 'Backbone', color: C_RMSD_BB }, { label: '\u00a0Side chains', color: C_RMSD_SC }, { label: 'Heavy atoms', color: C_RMSD_HA }]} />
    </div>
  );
}
